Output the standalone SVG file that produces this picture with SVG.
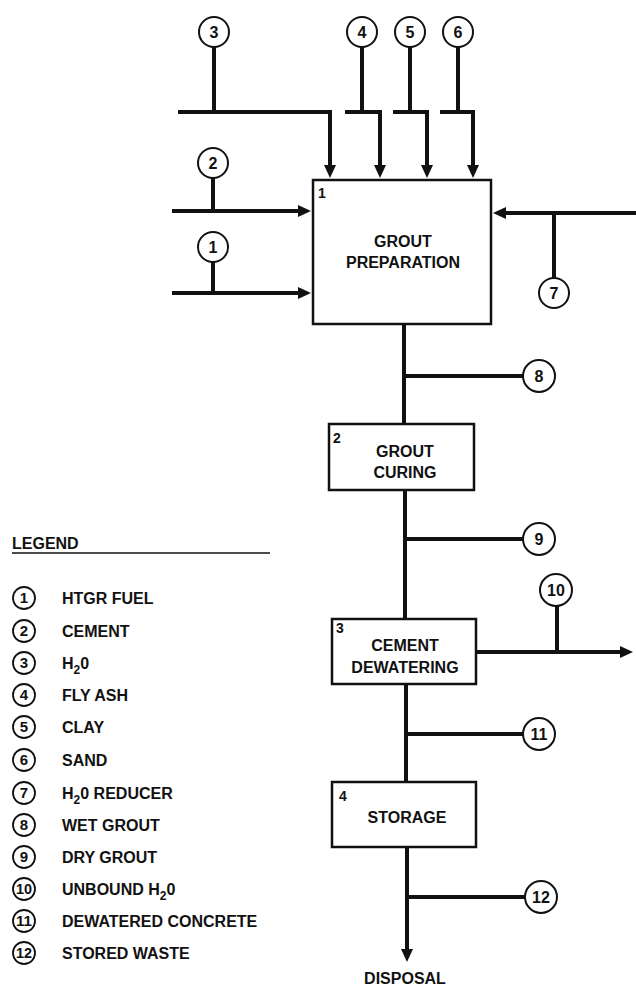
<svg xmlns="http://www.w3.org/2000/svg" width="636" height="986" viewBox="0 0 636 986">
<defs>
<style>
.bg{fill:#ffffff}
.box{fill:#ffffff;stroke:#111;stroke-width:2.5}
.cir{fill:#ffffff;stroke:#111;stroke-width:2}
.lcir{fill:none;stroke:#111;stroke-width:1.8}
.ln{fill:none;stroke:#111;stroke-width:4}
.t{font-family:"Liberation Sans",Arial,sans-serif;font-weight:bold;fill:#111}
.lbl{font-size:16px;text-anchor:middle}
.num{font-size:16px;text-anchor:middle}
.bn{font-size:14px}
.leg{font-size:16px}
.lnum{font-size:15px;text-anchor:middle}
.sub{font-size:12px}
</style>
<marker id="ah" viewBox="0 0 13 12" markerWidth="13" markerHeight="12" refX="1" refY="6" orient="auto" markerUnits="userSpaceOnUse">
<path d="M0,0 L13,6 L0,12 z" fill="#111"/>
</marker>
</defs>
<rect class="bg" x="0" y="0" width="636" height="986"/>

<g id="connectors">
<path class="ln" d="M214,47 V112"/>
<path class="ln" d="M178,112 H330 V166" marker-end="url(#ah)"/>
<path class="ln" d="M362,47 V112"/>
<path class="ln" d="M345,112 H380 V166" marker-end="url(#ah)"/>
<path class="ln" d="M410,47 V112"/>
<path class="ln" d="M393,112 H427 V166" marker-end="url(#ah)"/>
<path class="ln" d="M458,47 V112"/>
<path class="ln" d="M440,112 H473 V166" marker-end="url(#ah)"/>
<path class="ln" d="M213,178 V211"/>
<path class="ln" d="M172,211 H299" marker-end="url(#ah)"/>
<path class="ln" d="M213,262 V293"/>
<path class="ln" d="M172,293 H299" marker-end="url(#ah)"/>
<path class="ln" d="M636,213 H505" marker-end="url(#ah)"/>
<path class="ln" d="M554,213 V278"/>
<path class="ln" d="M404,324 V424"/>
<path class="ln" d="M404,376 H523"/>
<path class="ln" d="M405,490 V619"/>
<path class="ln" d="M405,539 H523"/>
<path class="ln" d="M476,652 H621" marker-end="url(#ah)"/>
<path class="ln" d="M557,606 V652"/>
<path class="ln" d="M406,684 V782"/>
<path class="ln" d="M406,734 H523"/>
<path class="ln" d="M407,847 V950" marker-end="url(#ah)"/>
<path class="ln" d="M407,897 H525"/>
</g>

<g id="box1">
<rect class="box" x="313" y="180" width="178" height="144"/>
<text class="t bn" x="318" y="198">1</text>
<text class="t lbl" x="403" y="247">GROUT</text>
<text class="t lbl" x="403" y="268">PREPARATION</text>
</g>
<g id="box2">
<rect class="box" x="329" y="424" width="145" height="66"/>
<text class="t bn" x="333" y="443">2</text>
<text class="t lbl" x="405" y="457">GROUT</text>
<text class="t lbl" x="405" y="478">CURING</text>
</g>
<g id="box3">
<rect class="box" x="332" y="619" width="144" height="65"/>
<text class="t bn" x="336" y="633">3</text>
<text class="t lbl" x="405" y="651">CEMENT</text>
<text class="t lbl" x="405" y="673">DEWATERING</text>
</g>
<g id="box4">
<rect class="box" x="332" y="782" width="144" height="65"/>
<text class="t bn" x="339" y="801">4</text>
<text class="t lbl" x="407" y="823">STORAGE</text>
</g>

<g id="s1"><circle class="cir" cx="213" cy="247" r="15"/><text class="t num" x="213" y="253">1</text></g>
<g id="s2"><circle class="cir" cx="213" cy="163" r="15"/><text class="t num" x="213" y="169">2</text></g>
<g id="s3"><circle class="cir" cx="214" cy="32" r="15"/><text class="t num" x="214" y="38">3</text></g>
<g id="s4"><circle class="cir" cx="362" cy="32" r="15"/><text class="t num" x="362" y="38">4</text></g>
<g id="s5"><circle class="cir" cx="410" cy="32" r="15"/><text class="t num" x="410" y="38">5</text></g>
<g id="s6"><circle class="cir" cx="458" cy="32" r="15"/><text class="t num" x="458" y="38">6</text></g>
<g id="s7"><circle class="cir" cx="554" cy="293" r="15"/><text class="t num" x="554" y="299">7</text></g>
<g id="s8"><circle class="cir" cx="539" cy="376" r="16"/><text class="t num" x="539" y="382">8</text></g>
<g id="s9"><circle class="cir" cx="539" cy="539" r="16"/><text class="t num" x="539" y="545">9</text></g>
<g id="s10"><circle class="cir" cx="556" cy="590" r="16"/><text class="t num" x="556" y="596">10</text></g>
<g id="s11"><circle class="cir" cx="539" cy="734" r="16"/><text class="t num" x="539" y="740">11</text></g>
<g id="s12"><circle class="cir" cx="541" cy="897" r="16"/><text class="t num" x="541" y="903">12</text></g>

<g id="disposal">
<text class="t lbl" x="405" y="984">DISPOSAL</text>
</g>

<g id="legend">
<text class="t leg" x="12" y="549">LEGEND</text>
<line x1="12" y1="553" x2="270" y2="553" stroke="#111" stroke-width="1.5"/>
<circle class="lcir" cx="24" cy="598" r="11"/><text class="t lnum" x="24" y="603">1</text>
<text class="t leg" x="62" y="604">HTGR FUEL</text>
<circle class="lcir" cx="24" cy="631" r="11"/><text class="t lnum" x="24" y="636">2</text>
<text class="t leg" x="62" y="637">CEMENT</text>
<circle class="lcir" cx="24" cy="663" r="11"/><text class="t lnum" x="24" y="668">3</text>
<text class="t leg" x="62" y="669">H<tspan class="sub" dy="5">2</tspan><tspan dy="-5">0</tspan></text>
<circle class="lcir" cx="24" cy="695" r="11"/><text class="t lnum" x="24" y="700">4</text>
<text class="t leg" x="62" y="701">FLY ASH</text>
<circle class="lcir" cx="24" cy="727" r="11"/><text class="t lnum" x="24" y="732">5</text>
<text class="t leg" x="62" y="733">CLAY</text>
<circle class="lcir" cx="24" cy="760" r="11"/><text class="t lnum" x="24" y="765">6</text>
<text class="t leg" x="62" y="766">SAND</text>
<circle class="lcir" cx="24" cy="793" r="11"/><text class="t lnum" x="24" y="798">7</text>
<text class="t leg" x="62" y="799">H<tspan class="sub" dy="5">2</tspan><tspan dy="-5">0 REDUCER</tspan></text>
<circle class="lcir" cx="24" cy="825" r="11"/><text class="t lnum" x="24" y="830">8</text>
<text class="t leg" x="62" y="831">WET GROUT</text>
<circle class="lcir" cx="24" cy="857" r="11"/><text class="t lnum" x="24" y="862">9</text>
<text class="t leg" x="62" y="863">DRY GROUT</text>
<circle class="lcir" cx="24" cy="889" r="11"/><text class="t lnum" x="24" y="894" textLength="16" lengthAdjust="spacingAndGlyphs">10</text>
<text class="t leg" x="62" y="895">UNBOUND H<tspan class="sub" dy="5">2</tspan><tspan dy="-5">0</tspan></text>
<circle class="lcir" cx="24" cy="921" r="11"/><text class="t lnum" x="24" y="926" textLength="16" lengthAdjust="spacingAndGlyphs">11</text>
<text class="t leg" x="62" y="927">DEWATERED CONCRETE</text>
<circle class="lcir" cx="24" cy="953" r="11"/><text class="t lnum" x="24" y="958" textLength="16" lengthAdjust="spacingAndGlyphs">12</text>
<text class="t leg" x="62" y="959">STORED WASTE</text>
</g>
</svg>
